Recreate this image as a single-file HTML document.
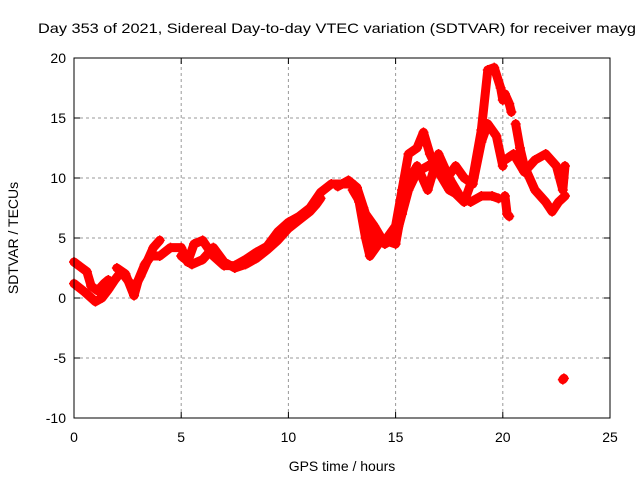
<!DOCTYPE html>
<html><head><meta charset="utf-8"><style>
body{margin:0;background:#fff}
svg{display:block;font-family:"Liberation Sans",sans-serif}
</style></head><body>
<svg id="chart" width="640" height="480">
<text x="38" y="33" font-size="14" textLength="598" lengthAdjust="spacingAndGlyphs">Day 353 of 2021, Sidereal Day-to-day VTEC variation (SDTVAR) for receiver mayg</text>
<text x="342" y="471" font-size="14" text-anchor="middle">GPS time / hours</text>
<text x="18" y="238" font-size="14" text-anchor="middle" transform="rotate(-90 18 238)">SDTVAR / TECUs</text>
<g id="grid"></g><g id="marks"></g>
<rect x="74" y="58" width="536" height="360" fill="none" stroke="#000" stroke-width="1"/>
</svg>
<script>
const xTicks=[0,5,10,15,20,25];
const yTicks=[-10,-5,0,5,10,15,20];
const track1=[[0,1.2],[0.5,0.5],[1,-0.3],[1.3,0],[1.6,0.7],[1.9,1.5],[2.2,2.2],[2.5,1.5],[2.8,0.8],[3.1,1.8],[3.4,3.0],[3.7,4.2],[4.0,4.8]];
const track2=[[0,3.0],[0.3,2.6],[0.6,2.2],[0.8,1.0],[1.1,0.6],[1.4,1.2],[1.6,1.5]];
const track3=[[2.0,2.5],[2.4,2.0],[2.8,0.2],[3.0,1.5],[3.3,2.8],[3.6,3.5],[4.0,3.5],[4.5,4.2],[5.0,4.2],[5.3,3.0],[5.6,4.5],[6.0,4.8],[6.5,3.5],[7.0,2.7],[7.5,2.7],[8,3.2],[8.5,3.8],[9,4.3],[9.5,5.5],[10,6.3],[10.5,6.8],[11,7.5],[11.5,8.8],[12,9.5],[12.5,9.5],[13,9.5],[13.3,8],[13.6,5],[13.8,3.5],[14.2,4.5],[14.6,5],[15,6],[15.3,9],[15.6,12],[16,12.5],[16.3,13.8],[16.6,12],[17,10.5],[17.5,9],[17.8,8.7],[18.2,8],[18.6,10],[19,14],[19.3,19],[19.6,19.2],[19.9,17.5],[20,16.5]];
const track4=[[5,3.5],[5.5,2.8],[6,3.2],[6.5,4.2],[7,3.0],[7.5,2.5],[8,2.8],[8.5,3.3],[9,4.0],[9.5,4.8],[10,5.8],[10.5,6.5],[11,7.2],[11.3,7.8],[11.5,8.3]];
const track5=[[12.3,9.3],[12.8,9.8],[13.2,9.2],[13.6,7],[14,6],[14.5,4.5],[15,5],[15.3,7],[15.6,9],[16,10.5],[16.5,11],[17,11.5],[17.4,10],[17.8,11],[18.2,10],[18.6,9.5],[19,13],[19.3,14.5],[19.7,13.5],[20,11]];
const track6=[[13,9],[13.5,7.5],[14,4.5],[14.5,4.8],[15,4.5],[15.5,9.5],[16,11],[16.5,9],[17,12],[17.5,10],[18,8.5],[18.5,8],[19,8.5],[19.5,8.5],[19.8,8.3]];
const track7=[[20.1,17],[20.3,16.2],[20.4,15.5]];
const track8=[[20.1,11.5],[20.5,12],[21,10.5],[21.5,11.5],[22,12],[22.5,11],[22.8,9],[22.9,11]];
const track9=[[20.6,14.5],[20.8,12.5],[21,11],[21.5,9],[22,8],[22.3,7.2],[22.6,8],[22.9,8.5]];
const track10=[[20.1,8.5],[20.2,7],[20.3,6.8]];
const track11=[[22.8,-6.8],[22.85,-6.7]];
const tracks=[track1,track2,track3,track4,track5,track6,track7,track8,track9,track10,track11];
const X0=74,X1=610,Y0=418,Y1=58;
function sx(v){return X0+(v-0)/(25-0)*(X1-X0);}
function sy(v){return Y0-(v+10)/(30)*(Y0-Y1);}
const NS="http://www.w3.org/2000/svg";
const grid=document.getElementById('grid'),marks=document.getElementById('marks');
function mk(t,a,p){const e=document.createElementNS(NS,t);for(const k in a)e.setAttribute(k,a[k]);p.appendChild(e);return e;}
xTicks.forEach(t=>{const x=sx(t);
 if(t>0&&t<25){const l=mk('line',{x1:x,y1:Y0,x2:x,y2:Y1,stroke:'#999','stroke-dasharray':'3,3'},grid);
 
 }
 mk('line',{x1:x,y1:Y0,x2:x,y2:Y0-6,stroke:'#000'},grid);
 mk('line',{x1:x,y1:Y1,x2:x,y2:Y1+6,stroke:'#000'},grid);
 const tx=mk('text',{x:x,y:Y0+24,'font-size':14,'text-anchor':'middle'},grid);tx.textContent=t;
 
 });
yTicks.forEach(t=>{const y=sy(t);
 if(t>-10&&t<20){const l=mk('line',{x1:X0,y1:y,x2:X1,y2:y,stroke:'#999','stroke-dasharray':'3,3'},grid);
 
 }
 mk('line',{x1:X0,y1:y,x2:X0+6,y2:y,stroke:'#000'},grid);
 mk('line',{x1:X1,y1:y,x2:X1-6,y2:y,stroke:'#000'},grid);
 const tx=mk('text',{x:X0-8,y:y+5,'font-size':14,'text-anchor':'end'},grid);tx.textContent=t;
 
 });
tracks.forEach((tr,i)=>{
 const pl=mk('polyline',{points:tr.map(p=>sx(p[0])+','+sy(p[1])).join(' '),fill:'none',stroke:'#f00','stroke-width':9,'stroke-linejoin':'round','stroke-linecap':'round'},marks);
 
 
 tr.forEach(p=>{const x=sx(p[0]),y=sy(p[1]);
  const g=mk('path',{d:`M${x-5},${y}H${x+5}M${x},${y-5}V${y+5}`,stroke:'#f00','stroke-width':1.5},marks);
  
  });
});
</script>
</body></html>
